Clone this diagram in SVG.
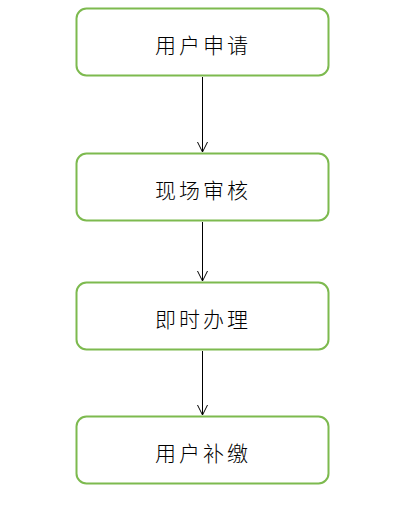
<svg xmlns="http://www.w3.org/2000/svg" width="405" height="513" viewBox="0 0 405 513">
<defs>
<style>
.box{fill:#ffffff;stroke:#7dba4f;stroke-width:2}
.lbl{font-family:"Noto Sans CJK SC",sans-serif;font-size:21px;font-weight:300;fill:#000;text-anchor:middle;dominant-baseline:central;letter-spacing:3px}
.edge{stroke:#000;stroke-width:1;fill:none}
</style>
<marker id="arr" viewBox="0 0 12 12" refX="11" refY="6" markerWidth="12" markerHeight="12" markerUnits="userSpaceOnUse" orient="auto">
<path d="M1,1 L11,6 L1,11" fill="none" stroke="#000" stroke-width="1"/>
</marker>
</defs>
<rect width="405" height="513" fill="#ffffff"/>
<g id="connectors">
<line class="edge" x1="202.5" y1="77" x2="202.5" y2="152" marker-end="url(#arr)"/>
<line class="edge" x1="202.5" y1="222" x2="202.5" y2="281" marker-end="url(#arr)"/>
<line class="edge" x1="202.5" y1="351" x2="202.5" y2="415" marker-end="url(#arr)"/>
</g>
<g id="n1"><rect class="box" x="76.5" y="8.5" width="252" height="67" rx="10"/><text class="lbl" x="203" y="44">用户申请</text></g>
<g id="n2"><rect class="box" x="76.5" y="153.5" width="252" height="67" rx="10"/><text class="lbl" x="203" y="189">现场审核</text></g>
<g id="n3"><rect class="box" x="76.5" y="282.5" width="252" height="67" rx="10"/><text class="lbl" x="203" y="318">即时办理</text></g>
<g id="n4"><rect class="box" x="76.5" y="416.5" width="252" height="67" rx="10"/><text class="lbl" x="203" y="452">用户补缴</text></g>
</svg>
